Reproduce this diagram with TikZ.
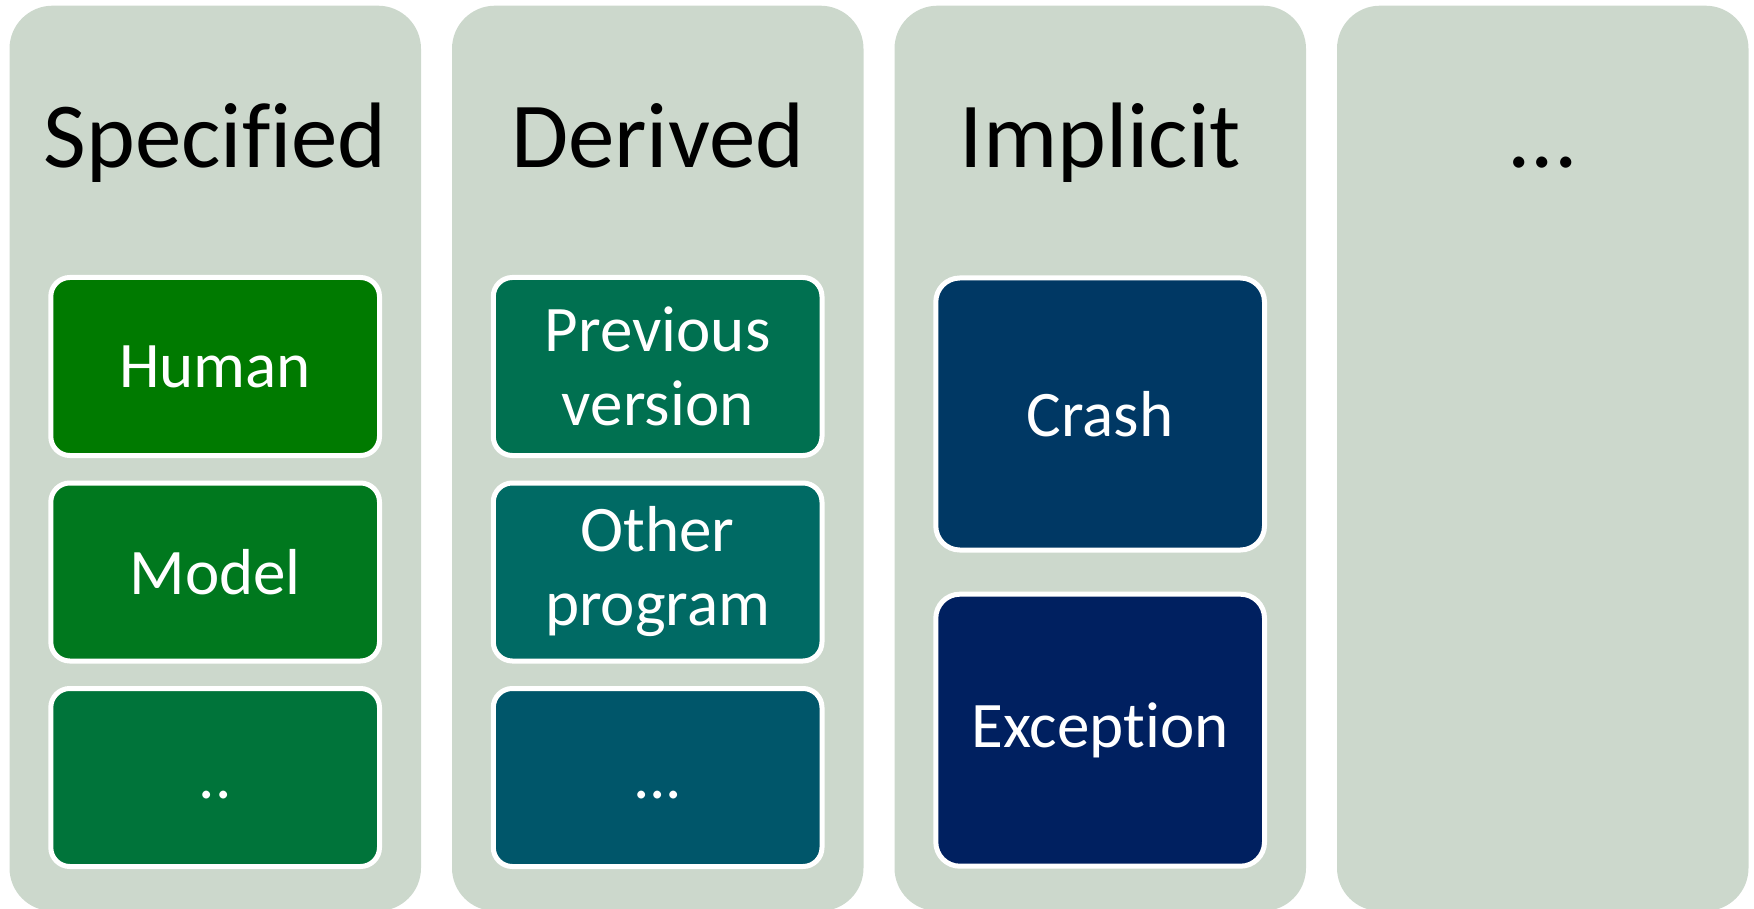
\documentclass[tikz,border=0pt]{standalone}
\usepackage{fontspec}
\setmainfont{Carlito}[RawFeature={-liga,-dlig,-clig,-hlig,-calt}]

% fills of the category panels and the items inside them
\definecolor{panelgray}{RGB}{204,216,204}
\definecolor{itemA}{RGB}{0,122,0}
\definecolor{itemB}{RGB}{0,120,30}
\definecolor{itemC}{RGB}{0,116,58}
\definecolor{itemD}{RGB}{0,112,80}
\definecolor{itemE}{RGB}{0,106,100}
\definecolor{itemF}{RGB}{0,86,106}
\definecolor{itemG}{RGB}{0,56,100}
\definecolor{itemH}{RGB}{0,32,96}

\begin{document}
\begin{tikzpicture}[x=1pt,y=-1pt,
  panel/.style={fill=panelgray, rounded corners=43pt, inner sep=0pt,
    minimum width=411.5pt, minimum height=905.3pt},
  heading/.style={anchor=base, inner sep=0pt, text=black,
    font=\fontsize{93}{100}\selectfont},
  item/.style={draw=white, line width=5pt, text=white, align=center,
    inner sep=0pt, font=\fontsize{65}{74}\selectfont, rounded corners=19pt,
    minimum width=328.7pt, minimum height=178pt},
  tallitem/.style={item, minimum height=272pt, rounded corners=24pt}]

  \useasboundingbox (0,0) rectangle (1754,909);

  % category panels
  \node[panel] (p1) at (215.25,458.35) {};
  \node[panel] (p2) at (657.75,458.35) {};
  \node[panel] (p3) at (1100.25,458.35) {};
  \node[panel] (p4) at (1542.75,458.35) {};

  % headings (kerns keep f-i and t-i as separate letters)
  \node[heading] (h1) at (215.25,168) {Specif\kern0pt ied};
  \node[heading] (h2) at (657.75,168) {Derived};
  \node[heading] (h3) at (1100.25,168) {Implicit};
  \node[heading] (h4) at (1542.75,168) {...};

  % specified
  \node[item, fill=itemA] (human) at (215.15,366.5) {Human};
  \node[item, fill=itemB] (model) at (215.15,572) {Model};
  \node[item, fill=itemC] (spmore) at (215.15,777.5) {\vphantom{H}..};

  % derived
  \node[item, fill=itemD] (prev) at (657.65,366.5) {Previous\\version};
  \node[item, fill=itemE] (other) at (657.65,572) {Other\\program};
  \node[item, fill=itemF] (dmore) at (657.65,777.5) {\vphantom{H}...};

  % implicit
  \node[tallitem, fill=itemG] (crash) at (1100.15,414) {Crash};
  \node[tallitem, fill=itemH] (exc) at (1100.15,730.2) {Except\kern0pt ion};
\end{tikzpicture}
\end{document}
